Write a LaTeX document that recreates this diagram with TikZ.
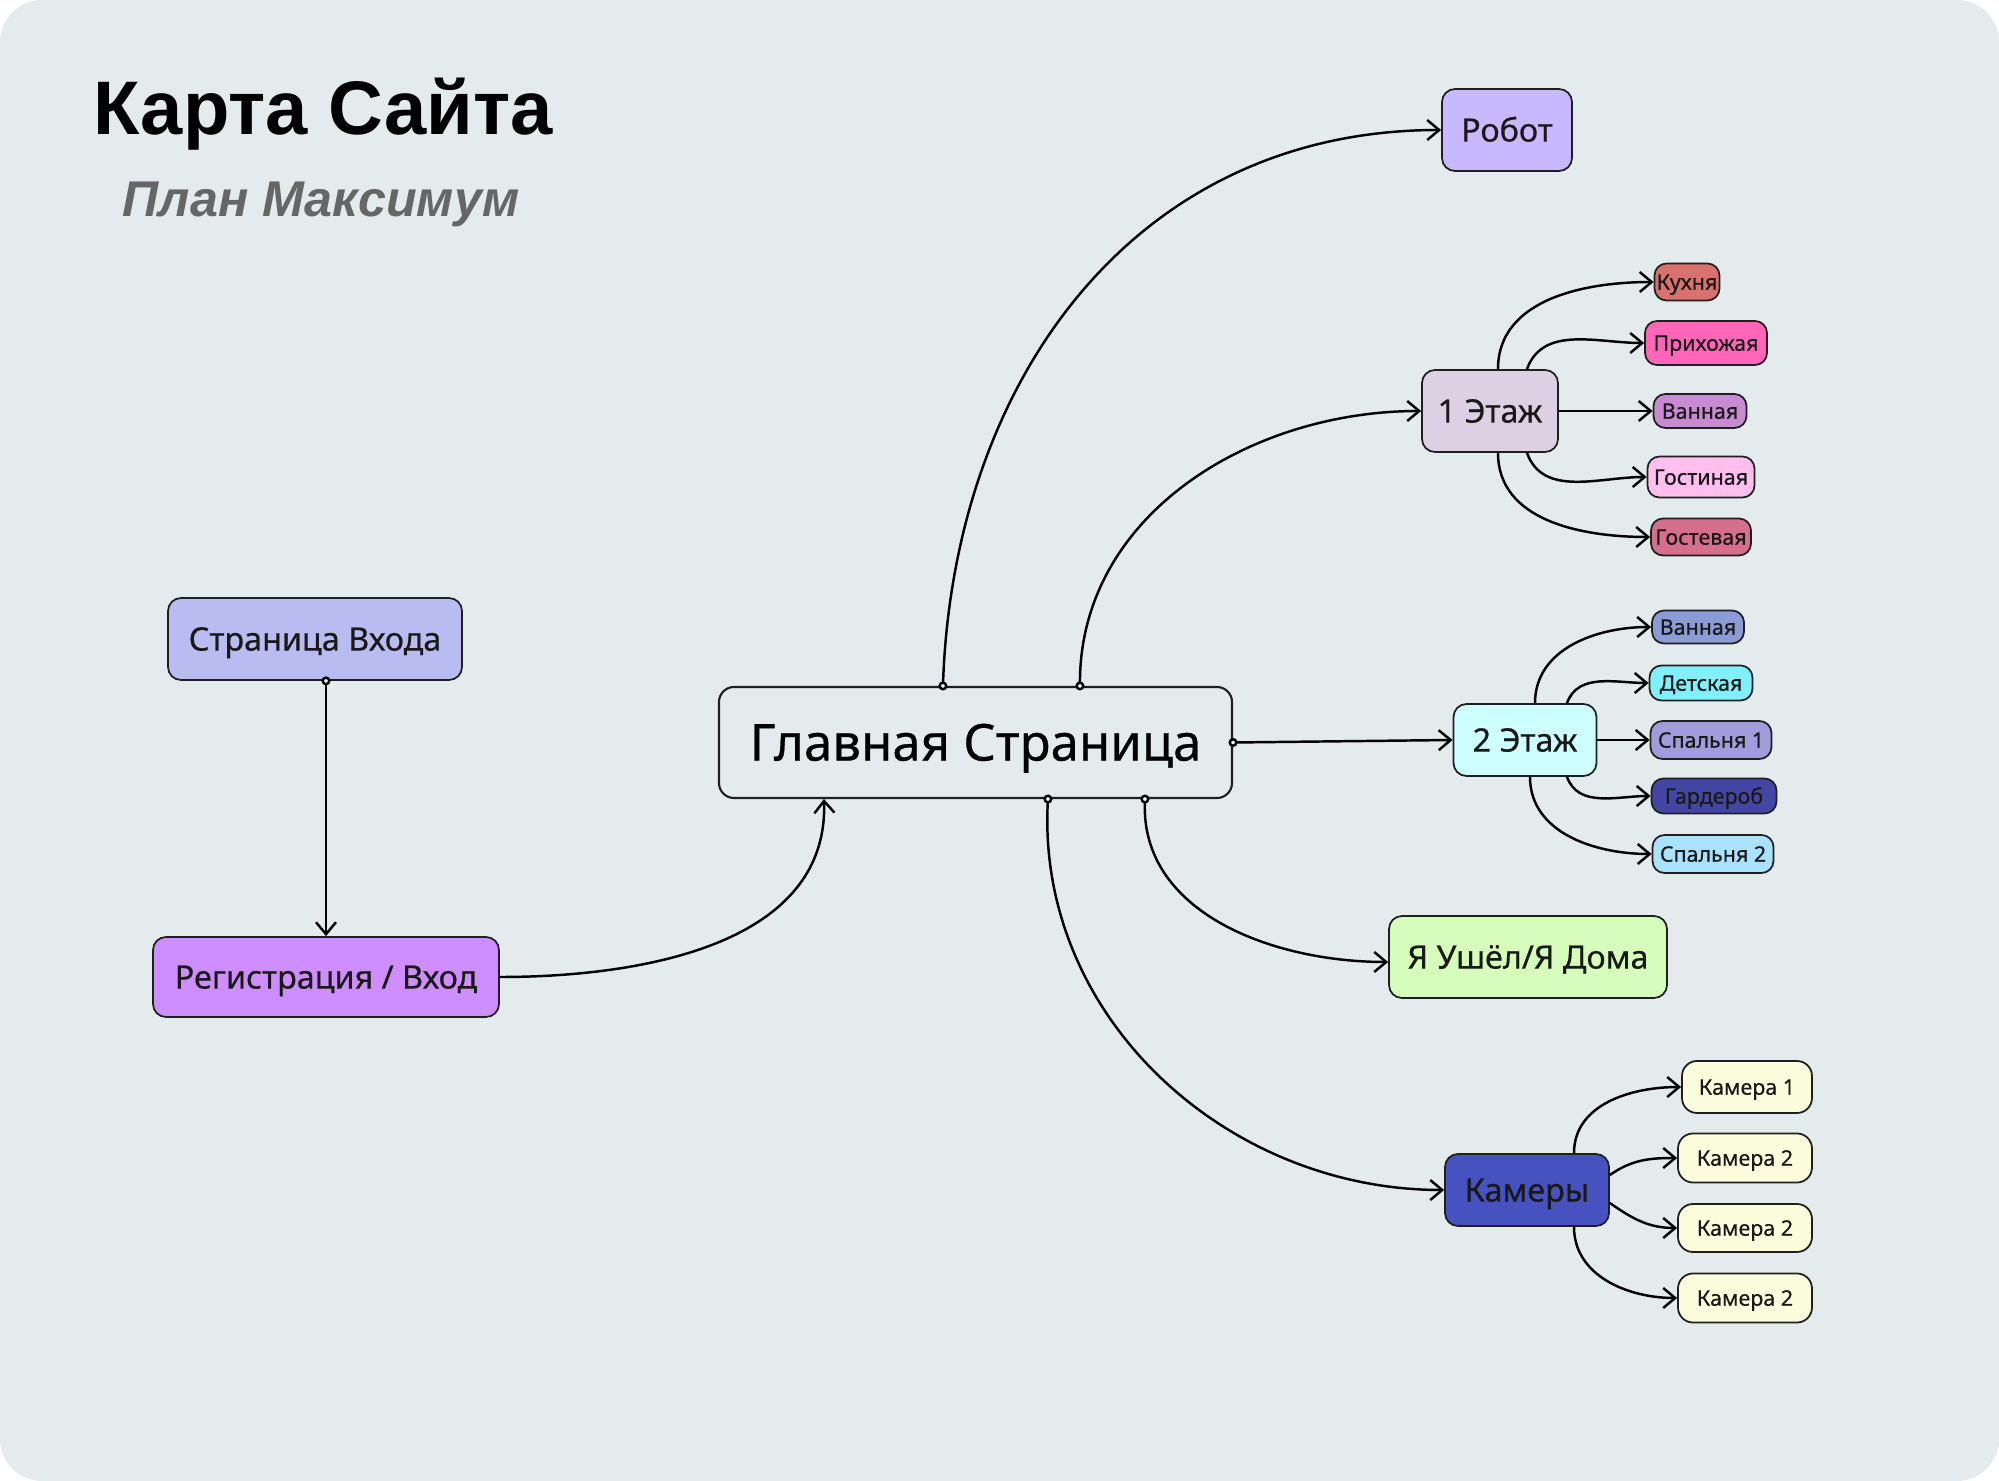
\documentclass[tikz,border=0pt]{standalone}
\usepackage{fontspec}
\setmainfont{Noto Sans}
\newfontfamily\uzelfont{Noto Sans}[FakeBold=0.5]
\newfontfamily\titlefont{Liberation Sans}
\usepackage{xcolor}
\usepackage{tikz}
\usetikzlibrary{positioning,arrows.meta,calc}

\definecolor{fon}{HTML}{E3EBEC}
\definecolor{rama}{HTML}{1F1F1F}
\definecolor{robotc}{HTML}{C8B8FF}
\definecolor{etazh1}{HTML}{DDD0E3}
\definecolor{etazh2}{HTML}{CCFFFE}
\definecolor{ushelc}{HTML}{D5FCBA}
\definecolor{kameryc}{HTML}{4652C0}
\definecolor{vhodc}{HTML}{B9BCF1}
\definecolor{regc}{HTML}{CE8DFC}
\definecolor{kuhnyac}{HTML}{D9726F}
\definecolor{prihc}{HTML}{FF66B8}
\definecolor{vannaya1c}{HTML}{C88AD2}
\definecolor{gostinc}{HTML}{FFBEEE}
\definecolor{gostevc}{HTML}{D66E8E}
\definecolor{vannaya2c}{HTML}{8B9BD6}
\definecolor{detc}{HTML}{80F0FC}
\definecolor{spalnya1c}{HTML}{A39CDC}
\definecolor{gardc}{HTML}{4446A6}
\definecolor{spalnya2c}{HTML}{A8E2FF}
\definecolor{kamerac}{HTML}{FCFDDD}

\tikzset{
    glavbox/.style={draw=rama, line width=0.6pt, rounded corners=0.15cm, fill=fon,
        text=black, inner sep=0pt, text height=10.3pt, text depth=0pt,
        font=\uzelfont\fontsize{14.5}{17}\selectfont},
    razdel/.style={draw=rama, line width=0.5pt, rounded corners=0.13cm,
        text=black!90, inner sep=0pt, text height=6.6pt, text depth=0pt,
        font=\uzelfont\fontsize{9.2}{11}\selectfont},
    komnata/.style={draw=rama, line width=0.5pt, rounded corners=0.12cm,
        text=black!90, inner sep=0pt, minimum height=0.37cm, text height=4.4pt, text depth=0pt,
        font=\uzelfont\fontsize{6.1}{7}\selectfont},
    svyaz/.style={line width=0.7pt, -{Straight Barb[length=1.2mm,width=2mm]}},
    glavsvyaz/.style={line width=0.7pt, shorten <=-0.45mm,
        {Circle[fill=white,length=0.9mm]}-{Straight Barb[length=1.2mm,width=2mm]}}
}

\begin{document}
\begin{tikzpicture}
    % Fon
    \useasboundingbox (0,0) rectangle (19.99,-14.81);
    \fill[fon, rounded corners=0.42cm] (0,0) rectangle (19.99,-14.81);

    % Zagolovok
    \node[anchor=base west, inner sep=0pt, font=\titlefont\bfseries\fontsize{21.6}{26}\selectfont] (title) at (0.93,-1.35) {Карта Сайта};
    \node[anchor=base west, inner sep=0pt, text=black!60, font=\titlefont\bfseries\itshape\fontsize{14.3}{17}\selectfont] (subtitle) at (1.22,-2.17) {План Максимум};

    % Glavnaya
    \node[glavbox, minimum width=5.13cm, minimum height=1.11cm] (glav) at (9.755,-7.425) {Главная Страница};

    % Vhod
    \node[razdel, fill=vhodc, minimum width=2.94cm, minimum height=0.82cm] (vhod) at (3.15,-6.39) {Страница Входа};
    \node[razdel, fill=regc, minimum width=3.46cm, minimum height=0.80cm] (reg) at (3.26,-9.77) {Регистрация / Вход};

    % Razdely
    \node[razdel, fill=robotc, minimum width=1.30cm, minimum height=0.82cm] (robot) at (15.07,-1.30) {Робот};
    \node[razdel, fill=etazh1, minimum width=1.36cm, minimum height=0.82cm] (et1) at (14.90,-4.11) {1 Этаж};
    \node[razdel, fill=etazh2, minimum width=1.43cm, minimum height=0.72cm] (et2) at (15.25,-7.40) {2 Этаж};
    \node[razdel, fill=ushelc, minimum width=2.78cm, minimum height=0.82cm] (ushel) at (15.28,-9.57) {Я Ушёл/Я Дома};
    \node[razdel, fill=kameryc, minimum width=1.64cm, minimum height=0.72cm] (kamery) at (15.27,-11.90) {Камеры};

    % 1 etazh
    \node[komnata, fill=kuhnyac, minimum width=0.65cm] (kuh) at (16.87,-2.82) {Кухня};
    \node[komnata, fill=prihc, minimum width=1.22cm, minimum height=0.44cm] (prih) at (17.06,-3.43) {Прихожая};
    \node[komnata, fill=vannaya1c, minimum width=0.93cm, minimum height=0.34cm] (van1) at (17.00,-4.11) {Ванная};
    \node[komnata, fill=gostinc, minimum width=1.07cm, minimum height=0.41cm] (gostin) at (17.01,-4.77) {Гостиная};
    \node[komnata, fill=gostevc, minimum width=1.00cm] (gostev) at (17.01,-5.37) {Гостевая};

    % 2 etazh
    \node[komnata, fill=vannaya2c, minimum width=0.92cm, minimum height=0.33cm] (van2) at (16.98,-6.27) {Ванная};
    \node[komnata, fill=detc, minimum width=1.03cm, minimum height=0.35cm] (det) at (17.01,-6.83) {Детская};
    \node[komnata, fill=spalnya1c, minimum width=1.21cm, minimum height=0.38cm] (sp1) at (17.11,-7.40) {Спальня 1};
    \node[komnata, fill=gardc, minimum width=1.25cm, minimum height=0.35cm] (gard) at (17.14,-7.96) {Гардероб};
    \node[komnata, fill=spalnya2c, minimum width=1.21cm, minimum height=0.38cm] (sp2) at (17.13,-8.54) {Спальня 2};

    % Kamery
    \node[komnata, fill=kamerac, rounded corners=0.15cm, minimum width=1.30cm, minimum height=0.52cm] (kam1) at (17.47,-10.87) {Камера 1};
    \node[komnata, fill=kamerac, rounded corners=0.15cm, minimum width=1.34cm, minimum height=0.49cm] (kam2) at (17.45,-11.58) {Камера 2};
    \node[komnata, fill=kamerac, rounded corners=0.15cm, minimum width=1.34cm, minimum height=0.48cm] (kam3) at (17.45,-12.28) {Камера 2};
    \node[komnata, fill=kamerac, rounded corners=0.15cm, minimum width=1.34cm, minimum height=0.49cm] (kam4) at (17.45,-12.98) {Камера 2};

    % Svyazi glavnoy
    \draw[glavsvyaz] (vhod.south -| reg.north) -- (reg.north);
    \draw[svyaz] (reg.east) to[out=0, in=-88] ([xshift=1.06cm]glav.south west);
    \draw[glavsvyaz] ([xshift=2.25cm]glav.north west) to[out=88, in=180, looseness=1.05] (robot.west);
    \draw[glavsvyaz] ([xshift=3.62cm]glav.north west) to[out=90, in=180] (et1.west);
    \draw[glavsvyaz] (glav.east) -- (et2.west);
    \draw[glavsvyaz] ([xshift=4.27cm]glav.south west) to[out=-92, in=180] ([yshift=-0.05cm]ushel.west);
    \draw[glavsvyaz] ([xshift=3.30cm]glav.south west) to[out=-93, in=180] (kamery.west);

    % Svyazi 1 etazha
    \draw[svyaz] ([xshift=0.08cm]et1.north) to[out=90, in=180] (kuh.west);
    \draw[svyaz] ([xshift=0.37cm]et1.north) to[out=70, in=180] (prih.west);
    \draw[svyaz] (et1.east) -- (van1.west);
    \draw[svyaz] ([xshift=0.37cm]et1.south) to[out=-70, in=180] (gostin.west);
    \draw[svyaz] ([xshift=0.08cm]et1.south) to[out=-90, in=180] (gostev.west);

    % Svyazi 2 etazha
    \draw[svyaz] ([xshift=0.10cm]et2.north) to[out=90, in=180] (van2.west);
    \draw[svyaz] ([xshift=0.42cm]et2.north) to[out=70, in=180] (det.west);
    \draw[svyaz] (et2.east) -- (sp1.west);
    \draw[svyaz] ([xshift=0.42cm]et2.south) to[out=-70, in=180] (gard.west);
    \draw[svyaz] ([xshift=0.05cm]et2.south) to[out=-90, in=180] (sp2.west);

    % Svyazi kamer
    \draw[svyaz] ([xshift=0.47cm]kamery.north) to[out=90, in=180] (kam1.west);
    \draw[svyaz] ([yshift=0.15cm]kamery.east) to[out=35, in=180] (kam2.west);
    \draw[svyaz] ([yshift=-0.13cm]kamery.east) to[out=-35, in=180] (kam3.west);
    \draw[svyaz] ([xshift=0.47cm]kamery.south) to[out=-90, in=180] (kam4.west);
\end{tikzpicture}
\end{document}
